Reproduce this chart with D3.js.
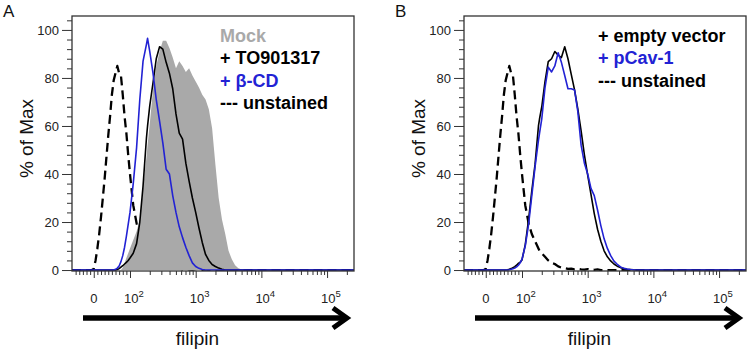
<!DOCTYPE html>
<html>
<head>
<meta charset="utf-8">
<script src="https://cdn.jsdelivr.net/npm/d3@7"></script>
<style>
    body{margin:0;background:#fff;}
    svg{display:block;}
    text{font-family:"Liberation Sans",Arial,sans-serif;}
</style>
</head>
<body>
<svg id="chart" width="750" height="353"></svg>
<script>
// filipin intensity bins (x values shared by every histogram)
const FILIPIN = [-60, -20, -10, -5,
    0, 5, 10, 15, 20, 25, 30, 35, 40, 45, 50, 55, 60, 65, 70, 75, 80, 85, 90, 95,
    100, 112, 126, 141, 158, 178, 185, 200,
    224, 251, 282, 316, 355, 398, 447, 501, 562, 631,
    708, 794, 891, 1000, 1122, 1259, 1413, 1585, 1778, 1995,
    2239, 2512, 2818, 3162, 3548, 3981, 4467, 5012, 6310,
    10000, 100000, 257000];

// % of Max per bin
const unstained = [0, 0, 0, 0,
    0.5, 4, 9, 15, 22, 30, 38, 47, 56, 64, 73, 79, 82, 85, 82, 81, 73, 64, 57, 48,
    40, 27, 19.5, 15, 12, 9, 8, 7,
    5.5, 4, 3, 2.5, 1.5, 1, 0.8, 0.5, 0.6, 0.3,
    0.5, 0.3, 0.2, 0.4, 0.2, 0.1, 0.3, 0, 0, 0,
    0, 0, 0, 0, 0, 0, 0, 0, 0,
    0, 0, 0];
const mock = [0, 0, 0, 0,
    0, 0, 0, 0, 0, 0, 0, 0, 0, 0, 0, 0, 0, 0, 0, 0, 1, 3, 5, 7,
    9, 12.5, 16, 21, 34, 47, 52, 61,
    75, 85, 91, 95.5, 95.5, 92.5, 88.5, 84, 87, 85,
    82.5, 84, 81, 78.5, 76, 73, 71, 67, 59, 44,
    30, 21, 15, 8, 4.5, 2, 0.7, 0.2, 0,
    0, 0, 0];
const to901317 = [0, 0, 0, 0,
    0, 0, 0, 0, 0, 0, 0, 0, 0, 0, 0, 0, 0, 0.2, 0.6, 1.2, 1.8, 2.5, 3.2, 4,
    5, 7, 11, 20, 35, 55, 60, 68.5,
    78, 88, 93, 92, 86.5, 82, 75.5, 65, 57, 54.5,
    44.5, 37, 30, 24, 17.5, 11.5, 6.5, 4, 2.3, 1.5,
    0.8, 0.3, 0, 0, 0, 0, 0, 0, 0,
    0, 0, 0];
const betaCD = [0, 0, 0, 0,
    0, 0, 0, 0, 0, 0, 0, 0, 0, 0, 0, 0, 0.3, 0.8, 1.7, 3.5, 6, 9.5, 14, 19,
    24, 36, 51, 71, 87, 94, 96.5, 91,
    82, 71, 62, 53, 42, 40, 31, 24, 18, 13.5,
    9.5, 6, 3, 1.5, 0.7, 0.2, 0, 0, 0, 0,
    0, 0, 0, 0, 0, 0, 0, 0, 0,
    0, 0, 0];
const emptyVector = [0, 0, 0, 0,
    0, 0, 0, 0, 0, 0, 0, 0, 0, 0, 0, 0, 0.1, 0.3, 0.6, 1, 1.4, 2, 2.8, 3.3,
    4.2, 10.5, 21, 33, 44, 60, 63, 68,
    78.5, 86.8, 88, 91, 89.5, 88.5, 93, 88, 81.5, 75,
    67, 58, 48, 39.5, 31.5, 23.5, 17, 12, 8, 5.5,
    3.8, 2.5, 1.6, 1, 0.6, 0.3, 0.2, 0.1, 0,
    0, 0, 0];
const pCav1 = [0, 0, 0, 0,
    0, 0, 0, 0, 0, 0, 0, 0, 0, 0, 0, 0, 0, 0.1, 0.3, 0.5, 0.8, 1.3, 2, 3,
    4.5, 10, 19, 31, 43, 54, 57, 63,
    76, 84.5, 82.5, 85, 90.5, 86.5, 81, 75.5, 75.5, 75,
    66, 52, 44.5, 40, 34, 31, 25, 18.5, 13, 9,
    6, 3.7, 2.4, 1.3, 0.7, 0.4, 0.2, 0.1, 0,
    0, 0, 0];

const Y_TICKS = [0, 20, 40, 60, 80, 100];
const X_TICKS = [0, 100, 1000, 10000, 100000];

const W = 282, H = 255;
const GREY = "#a9a9a9", BLUE = "#2222d4", INK = "#111";

// biexponential-like axis: linear around zero, log above 10^2
const xLin = d3.scaleLinear().domain([-60, 100]).range([0, 58]);
const xLog = d3.scaleLog().domain([100, 257000]).range([58, W]);
function xScale(v){ return v < 100 ? xLin(v) : xLog(v); }
xScale.domain = function(){ return [-60, 257000]; };
xScale.range = function(){ return [0, W]; };
xScale.copy = function(){ return xScale; };

const yScale = d3.scaleLinear().domain([-0.4, 105.8]).range([H, 0]);

const svg = d3.select("#chart");

function drawPanel(left, letter, series, legend, legendX){
    let root = svg.append("g").attr("transform", "translate(" + left + ",16)");

    root.append("clipPath").attr("id", "clip" + letter)
        .append("rect").attr("width", W).attr("height", H);

    let plot = root.append("g").attr("clip-path", "url(#clip" + letter + ")");

    series.forEach(function(s){
        if(s.fill){
            let area = d3.area()
                .x(function(d, i){ return xScale(FILIPIN[i]); })
                .y0(yScale(0))
                .y1(function(d){ return yScale(d); });
            plot.append("path").datum(s.values)
                .attr("d", area)
                .attr("fill", s.color);
        } else {
            let line = d3.line()
                .x(function(d, i){ return xScale(FILIPIN[i]); })
                .y(function(d){ return yScale(d); });
            plot.append("path").datum(s.values)
                .attr("d", line)
                .attr("fill", "none")
                .attr("stroke", s.color)
                .attr("stroke-width", s.dash ? 2.3 : 1.6)
                .attr("stroke-dasharray", s.dash ? "9,5" : null)
                .attr("stroke-linejoin", "round");
        }
    });

    root.append("rect")
        .attr("width", W).attr("height", H)
        .attr("fill", "none").attr("stroke", "#333").attr("stroke-width", 1.3);

    // y axis
    let yMinor = root.append("g")
        .call(d3.axisLeft(yScale).tickValues(d3.range(4, 105, 4).filter(function(v){ return v % 20; })).tickSize(5).tickFormat(""));
    let yMajor = root.append("g")
        .call(d3.axisLeft(yScale).tickValues(Y_TICKS).tickSize(10).tickPadding(3));
    yMajor.selectAll("text").attr("font-size", 13).attr("fill", "#222")
        .style("font-family", '"Liberation Sans",Arial,sans-serif');

    // x axis
    let minorX = d3.range(-50, 100, 10).filter(function(v){ return v !== 0; });
    [100, 1000, 10000].forEach(function(dec){
        d3.range(2, 10).forEach(function(k){ minorX.push(k * dec); });
    });
    minorX.push(200000);
    let xMinor = root.append("g").attr("transform", "translate(0," + H + ")")
        .call(d3.axisBottom(xScale).tickValues(minorX).tickSize(4).tickFormat(""));
    let xMajor = root.append("g").attr("transform", "translate(0," + H + ")")
        .call(d3.axisBottom(xScale).tickValues(X_TICKS).tickSize(7).tickFormat(""));

    [yMinor, yMajor, xMinor, xMajor].forEach(function(a){
        a.select(".domain").remove();
        a.selectAll("line").attr("stroke", "#333");
    });

    X_TICKS.forEach(function(v){
        let t = root.append("text")
            .attr("y", H + 32)
            .attr("font-size", 13)
            .attr("fill", "#222");
        if(v === 0){
            t.attr("x", xScale(v)).attr("text-anchor", "middle").text("0");
        } else {
            t.attr("x", xScale(v) - 6);
            t.append("tspan").text("10");
            t.append("tspan").attr("dy", -6).attr("font-size", 9.5).text(Math.round(Math.log10(v)));
        }
    });

    // arrow and axis titles
    root.append("line")
        .attr("x1", 11).attr("x2", 272).attr("y1", 302).attr("y2", 302)
        .attr("stroke", "#000").attr("stroke-width", 5.5);
    root.append("path")
        .attr("d", "M261,292L275,302L261,312")
        .attr("fill", "none").attr("stroke", "#000").attr("stroke-width", 5);

    root.append("text")
        .attr("x", 125.5).attr("y", 329)
        .attr("text-anchor", "middle").attr("font-size", 19).attr("fill", INK)
        .text("filipin");

    root.append("text")
        .attr("transform", "translate(-39," + 122.5 + ") rotate(-90)")
        .attr("text-anchor", "middle").attr("font-size", 19).attr("fill", INK)
        .text("% of Max");

    svg.append("text")
        .attr("x", left - 69).attr("y", 17)
        .attr("font-size", 17).attr("fill", INK)
        .text(letter);

    legend.forEach(function(item, i){
        root.append("text")
            .attr("x", legendX).attr("y", 26 + i * 22.3)
            .attr("font-size", 18).attr("font-weight", "bold")
            .attr("fill", item.color)
            .text(item.label);
    });
}

drawPanel(72, "A",
    [
        {values: unstained, color: "#000", dash: true},
        {values: mock, color: GREY, fill: true},
        {values: to901317, color: "#000"},
        {values: betaCD, color: BLUE}
    ],
    [
        {label: "Mock", color: GREY},
        {label: "+ TO901317", color: "#000"},
        {label: "+ \u03B2-CD", color: BLUE},
        {label: "--- unstained", color: "#000"}
    ], 148);

drawPanel(464, "B",
    [
        {values: unstained, color: "#000", dash: true},
        {values: emptyVector, color: "#000"},
        {values: pCav1, color: BLUE}
    ],
    [
        {label: "+ empty vector", color: "#000"},
        {label: "+ pCav-1", color: BLUE},
        {label: "--- unstained", color: "#000"}
    ], 134);
</script>
</body>
</html>
